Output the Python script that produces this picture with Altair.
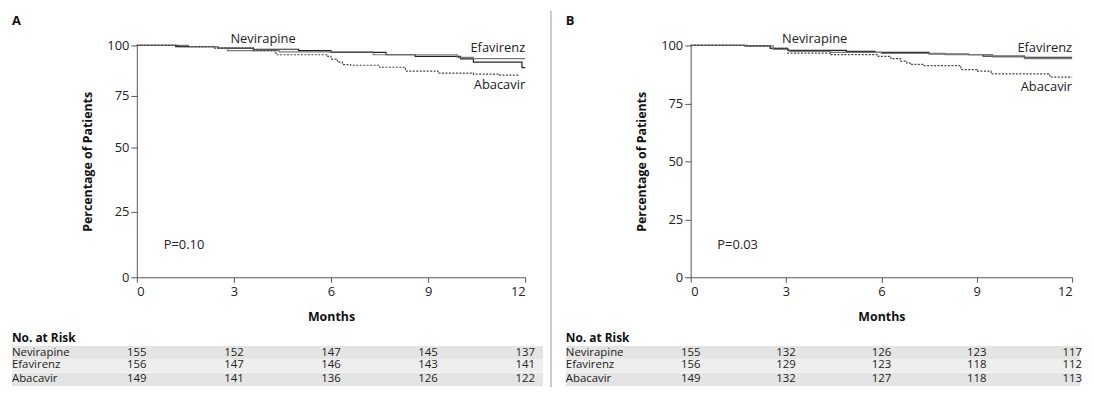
import altair as alt
import pandas as pd

FONT = "Open Sans"
FS = 13
FS_T = 11.5
drugs = ["Nevirapine", "Efavirenz", "Abacavir"]
month_ticks = [0, 3, 6, 9, 12]
pct_ticks = [0, 25, 50, 75, 100]

# ---- Panel A curves (step functions) ----
a_nev_t = [0, 1.2, 2.5, 3.6, 5.0, 6.0, 7.7, 8.6, 10.0, 10.4, 11.9, 12]
a_nev_s = [100, 99.4, 98.7, 98.1, 97.4, 96.6, 95.4, 94.6, 93.3, 91.7, 89.0, 89.0]
a_efa_t = [0, 1.6, 2.5, 2.8, 4.4, 7.3, 9.9, 10.4, 12]
a_efa_s = [100, 99.4, 98.7, 97.4, 96.8, 95.4, 94.1, 93.5, 93.5]
a_aba_t = [0, 1.3, 2.4, 3.6, 4.3, 5.9, 6.0, 6.2, 6.35, 6.6, 7.5, 8.3, 9.3, 10.4, 11.2, 11.8]
a_aba_s = [100, 99.4, 98.7, 97.4, 95.4, 94.6, 93.2, 91.7, 90.5, 90.2, 89.2, 87.3, 86.3, 85.8, 85.3, 85.3]

# ---- Panel B curves ----
b_nev_t = [0, 1.7, 2.5, 3.05, 4.9, 5.8, 7.5, 8.75, 9.2, 10.5, 12]
b_nev_s = [100, 99.8, 98.7, 97.9, 97.4, 97.0, 96.3, 96.0, 95.4, 94.9, 94.9]
b_efa_t = [0, 1.8, 2.6, 3.1, 4.4, 6.0, 8.0, 9.5, 10.5, 12]
b_efa_s = [100, 99.8, 98.3, 97.4, 97.0, 96.6, 96.0, 95.0, 94.3, 94.3]
b_aba_t = [0, 1.7, 2.5, 3.05, 4.4, 5.9, 6.3, 6.6, 6.8, 6.95, 7.3, 8.5, 9.0, 9.45, 11.3, 12]
b_aba_s = [100, 99.8, 98.7, 96.7, 96.0, 95.3, 94.3, 93.2, 92.4, 91.8, 91.3, 89.6, 88.9, 87.7, 86.3, 86.3]

# ---- Numbers at risk ----
a_risk = {"Nevirapine": [155, 152, 147, 145, 137],
          "Efavirenz": [156, 147, 146, 143, 141],
          "Abacavir": [149, 141, 136, 126, 122]}
b_risk = {"Nevirapine": [155, 132, 126, 123, 117],
          "Efavirenz": [156, 129, 123, 118, 112],
          "Abacavir": [149, 132, 127, 118, 113]}

line_colors = ["#222222", "#7a7a7a", "#444444"]
line_dash = [[1, 0], [1, 0], [2, 1.5]]


def curves_df(curves):
    rows = []
    for name, (t, s) in zip(drugs, curves):
        for ti, si in zip(t, s):
            rows.append({"time": ti, "pct": si, "drug": name})
    return pd.DataFrame(rows)


def panel(letter, curves, risk, pval, pval_pos, y_range, width, labels, shade_right, divider=False):
    H = 234
    xs = alt.Scale(domain=[0, 12], nice=False)
    ys = alt.Scale(domain=pct_ticks, range=y_range, nice=False)
    x_axis = alt.Axis(values=month_ticks, title="Months", tickSize=5, labelPadding=3,
                      titlePadding=13, format="d")
    y_axis = alt.Axis(values=pct_ticks, title="Percentage of Patients", tickSize=6,
                      labelPadding=2, titlePadding=12, format="d")
    X = lambda f="time:Q": alt.X(f, scale=xs, axis=x_axis)
    Y = lambda f="pct:Q": alt.Y(f, scale=ys, axis=y_axis)

    lines = alt.Chart(curves_df(curves)).mark_line(
        interpolate="step-after", strokeWidth=1.2
    ).encode(
        x=X(), y=Y(),
        color=alt.Color("drug:N", scale=alt.Scale(domain=drugs, range=line_colors), legend=None),
        strokeDash=alt.StrokeDash("drug:N", scale=alt.Scale(domain=drugs, range=line_dash), legend=None),
    )

    layers = [lines]
    # risk table shading
    row_y = [310, 323, 337]
    shade_cols = ["#e4e4e4", "#eeeeee", "#e4e4e4"]
    for ry, col in zip(row_y, shade_cols):
        layers.append(
            alt.Chart(alt.Data(values=[{}])).mark_rect(color=col).encode(
                x=alt.value(-126), x2=alt.value(shade_right),
                y=alt.value(ry - 6.75), y2=alt.value(ry + 6.75))
        )

    # curve labels
    lab_df = pd.DataFrame(labels)
    for al in ["center", "right"]:
        sub = lab_df[lab_df["align"] == al]
        layers.append(
            alt.Chart(sub).mark_text(align=al, baseline="middle", fontSize=FS, font=FONT, color="#222").encode(
                x=X(), y=Y(), text="label:N")
        )
    # p-value
    layers.append(
        alt.Chart(pd.DataFrame({"time": [pval_pos[0]], "pct": [pval_pos[1]], "label": [pval]})).mark_text(
            align="left", baseline="middle", fontSize=FS, font=FONT, color="#222").encode(
            x=X(), y=Y(), text="label:N")
    )
    # panel letter
    layers.append(
        alt.Chart(alt.Data(values=[{}])).mark_text(
            text=letter, align="left", baseline="middle", fontSize=13, fontWeight="bold", font=FONT, color="#111"
        ).encode(x=alt.value(-126), y=alt.value(-25))
    )
    # No. at Risk
    layers.append(
        alt.Chart(alt.Data(values=[{}])).mark_text(
            text="No. at Risk", align="left", baseline="middle", fontSize=12, fontWeight="bold", font=FONT, color="#111"
        ).encode(x=alt.value(-126), y=alt.value(295))
    )
    for name, ry in zip(drugs, row_y):
        layers.append(
            alt.Chart(alt.Data(values=[{}])).mark_text(
                text=name, align="left", baseline="middle", fontSize=FS_T, font=FONT, color="#222"
            ).encode(x=alt.value(-126), y=alt.value(ry))
        )
        rdf = pd.DataFrame({"time": month_ticks, "n": risk[name]})
        layers.append(
            alt.Chart(rdf).mark_text(align="center", baseline="middle", fontSize=FS_T, font=FONT, color="#222").encode(
                x=X(), y=alt.value(ry), text="n:Q")
        )
    if divider:
        layers.append(
            alt.Chart(alt.Data(values=[{}])).mark_rule(color="#9a9a9a", strokeWidth=1).encode(
                x=alt.value(-141), y=alt.value(-35), y2=alt.value(345))
        )
    return alt.layer(*layers).properties(width=width, height=H)


labels_a = [
    {"time": 3.9, "pct": 103.0, "label": "Nevirapine", "align": "center"},
    {"time": 12.0, "pct": 98.5, "label": "Efavirenz", "align": "right"},
    {"time": 12.0, "pct": 80.4, "label": "Abacavir", "align": "right"},
]
labels_b = [
    {"time": 3.9, "pct": 102.8, "label": "Nevirapine", "align": "center"},
    {"time": 12.0, "pct": 99.0, "label": "Efavirenz", "align": "right"},
    {"time": 12.0, "pct": 82.0, "label": "Abacavir", "align": "right"},
]

panel_a = panel("A", [(a_nev_t, a_nev_s), (a_efa_t, a_efa_s), (a_aba_t, a_aba_s)], a_risk,
                "P=0.10", (0.83, 12.2), [234, 167.7, 102.7, 51, 0], 392, labels_a, 410)
panel_b = panel("B", [(b_nev_t, b_nev_s), (b_efa_t, b_efa_s), (b_aba_t, b_aba_s)], b_risk,
                "P=0.03", (0.84, 14.1), [234, 175.5, 117, 58.5, 0], 385, labels_b, 393, divider=True)

chart = alt.hconcat(panel_a, panel_b, spacing=167, bounds="flush").properties(
    padding={"left": 4, "top": 0, "right": 4, "bottom": 0}
).configure_view(stroke=None).configure_axis(
    grid=False, domainColor="#555", tickColor="#555", labelColor="#222", titleColor="#111",
    labelFont=FONT, titleFont=FONT, labelFontSize=FS, titleFontSize=12.5, titleFontWeight="bold",
    labelFontWeight="normal"
)

chart.save("out.html", embed_options={"renderer": "svg", "actions": False})
